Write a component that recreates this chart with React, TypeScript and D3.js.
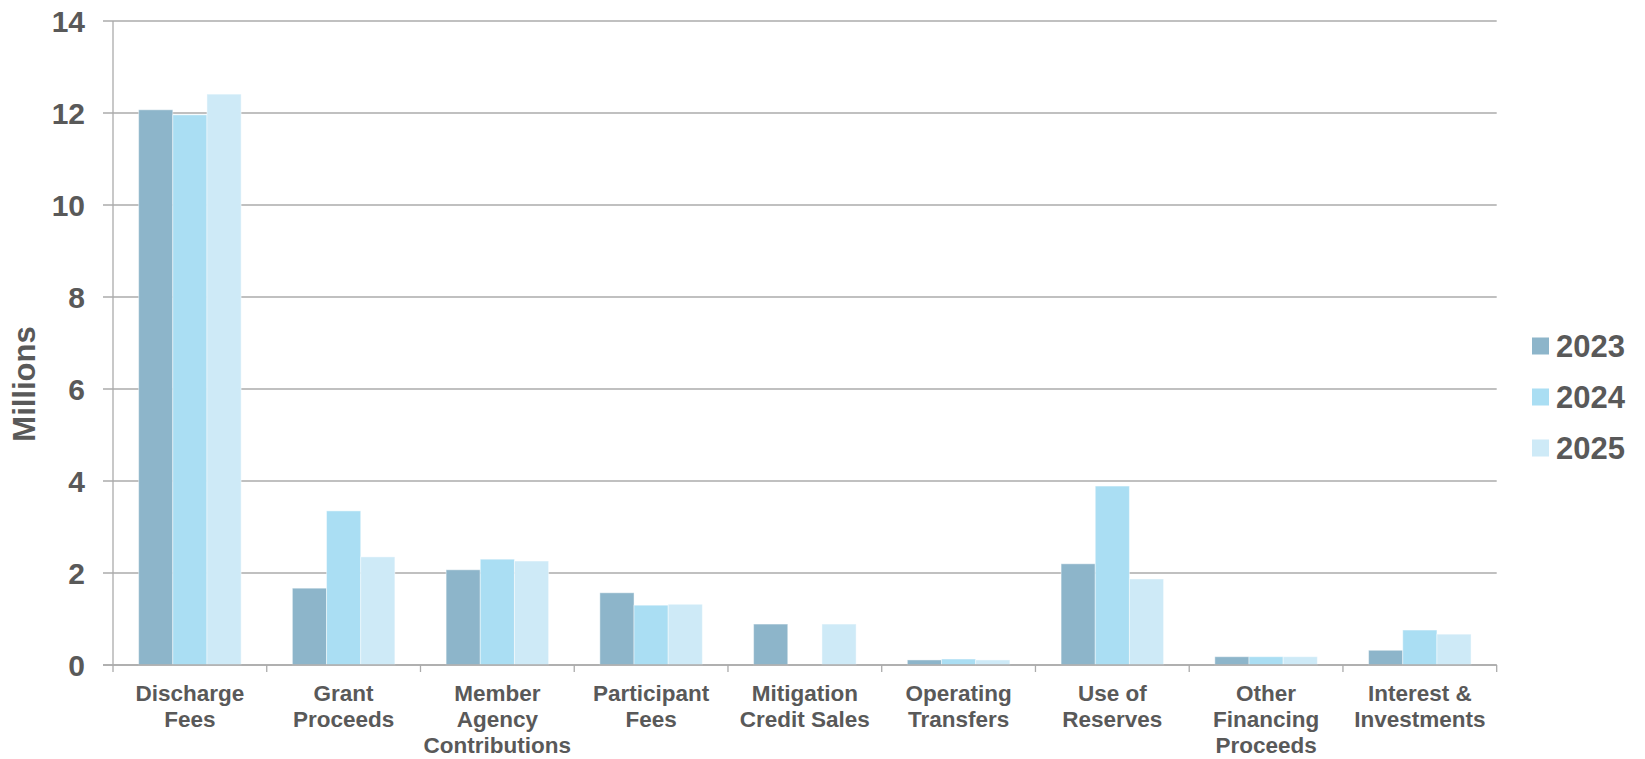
import React from "react";
import * as d3 from "d3";

const categories: string[][] = [
  ["Discharge", "Fees"],
  ["Grant", "Proceeds"],
  ["Member", "Agency", "Contributions"],
  ["Participant", "Fees"],
  ["Mitigation", "Credit Sales"],
  ["Operating", "Transfers"],
  ["Use of", "Reserves"],
  ["Other", "Financing", "Proceeds"],
  ["Interest &", "Investments"],
];

const seriesNames = ["2023", "2024", "2025"];
const values2023 = [12.07, 1.67, 2.07, 1.57, 0.89, 0.11, 2.2, 0.18, 0.32];
const values2024 = [11.96, 3.35, 2.3, 1.3, 0, 0.13, 3.89, 0.18, 0.76];
const values2025 = [12.41, 2.35, 2.26, 1.32, 0.89, 0.11, 1.87, 0.18, 0.67];
const seriesColors = ["#8db5ca", "#aadef3", "#ceeaf7"];
const yTicks = [0, 2, 4, 6, 8, 10, 12, 14];

const W = 1645;
const H = 759;
const plot = { left: 113, right: 1496.7, top: 21, bottom: 665 };
const textColor = "#595959";
const gridColor = "#ababab";
const font = "'Liberation Sans', Arial, sans-serif";

export default function App() {
  const series = [values2023, values2024, values2025];
  const keys = categories.map((c) => c.join(" "));

  const x = d3.scaleBand<string>().domain(keys).range([plot.left, plot.right]).paddingInner(0).paddingOuter(0);
  const xs = d3
    .scaleBand<string>()
    .domain(seriesNames)
    .range([0, x.bandwidth()])
    .paddingInner(0)
    .paddingOuter(0.75);
  const y = d3.scaleLinear().domain([0, 14]).range([plot.bottom, plot.top]);

  const boundaries = keys.map((k) => x(k) as number).concat([plot.right]);

  return (
    <div style={{ position: "fixed", left: 0, top: 0, width: W, height: H, background: "#fff" }}>
      <svg width={W} height={H} style={{ display: "block" }} fontFamily={font}>
        {/* horizontal gridlines with left tick stubs */}
        {yTicks.map((t) => (
          <line
            key={"g" + t}
            x1={plot.left - 10}
            x2={plot.right}
            y1={y(t)}
            y2={y(t)}
            stroke={gridColor}
            strokeWidth={1.3}
          />
        ))}
        {/* y axis line */}
        <line x1={plot.left} x2={plot.left} y1={plot.top} y2={plot.bottom} stroke={gridColor} strokeWidth={1.3} />
        {/* y tick labels */}
        {yTicks.map((t) => (
          <text
            key={"t" + t}
            x={plot.left - 28}
            y={y(t)}
            dy="0.36em"
            textAnchor="end"
            fontSize={30}
            fontWeight="bold"
            fill={textColor}
          >
            {t}
          </text>
        ))}
        {/* y axis title */}
        <text
          transform={`translate(35, 384) rotate(-90)`}
          textAnchor="middle"
          fontSize={31}
          fontWeight="bold"
          fill={textColor}
        >
          Millions
        </text>

        {/* bars */}
        {series.map((vals, si) =>
          vals.map((v, ci) => {
            if (v <= 0) return null;
            const bx = (x(keys[ci]) as number) + (xs(seriesNames[si]) as number);
            return (
              <rect
                key={`b${si}-${ci}`}
                x={bx}
                y={y(v)}
                width={xs.bandwidth()}
                height={y(0) - y(v)}
                fill={seriesColors[si]}
                stroke="#ffffff"
                strokeOpacity={0.45}
                strokeWidth={1}
              />
            );
          })
        )}

        {/* x axis line and category ticks */}
        <line x1={plot.left - 10} x2={plot.right} y1={plot.bottom} y2={plot.bottom} stroke={gridColor} strokeWidth={1.3} />
        {boundaries.map((bx, i) => (
          <line key={"xt" + i} x1={bx} x2={bx} y1={plot.bottom} y2={plot.bottom + 7} stroke={gridColor} strokeWidth={1.3} />
        ))}

        {/* category labels */}
        {categories.map((lines, ci) => {
          const cx = (x(keys[ci]) as number) + x.bandwidth() / 2;
          return (
            <text key={"c" + ci} textAnchor="middle" fontSize={22.5} fontWeight="bold" fill={textColor}>
              {lines.map((ln, li) => (
                <tspan key={li} x={cx} y={701 + li * 26}>
                  {ln}
                </tspan>
              ))}
            </text>
          );
        })}

        {/* legend */}
        {seriesNames.map((name, si) => {
          const cy = 346 + si * 51;
          return (
            <g key={"l" + si}>
              <rect x={1532} y={cy - 8.5} width={17} height={17} fill={seriesColors[si]} />
              <text x={1556} y={cy} dy="0.36em" fontSize={31} fontWeight="bold" fill={textColor}>
                {name}
              </text>
            </g>
          );
        })}
      </svg>
    </div>
  );
}
